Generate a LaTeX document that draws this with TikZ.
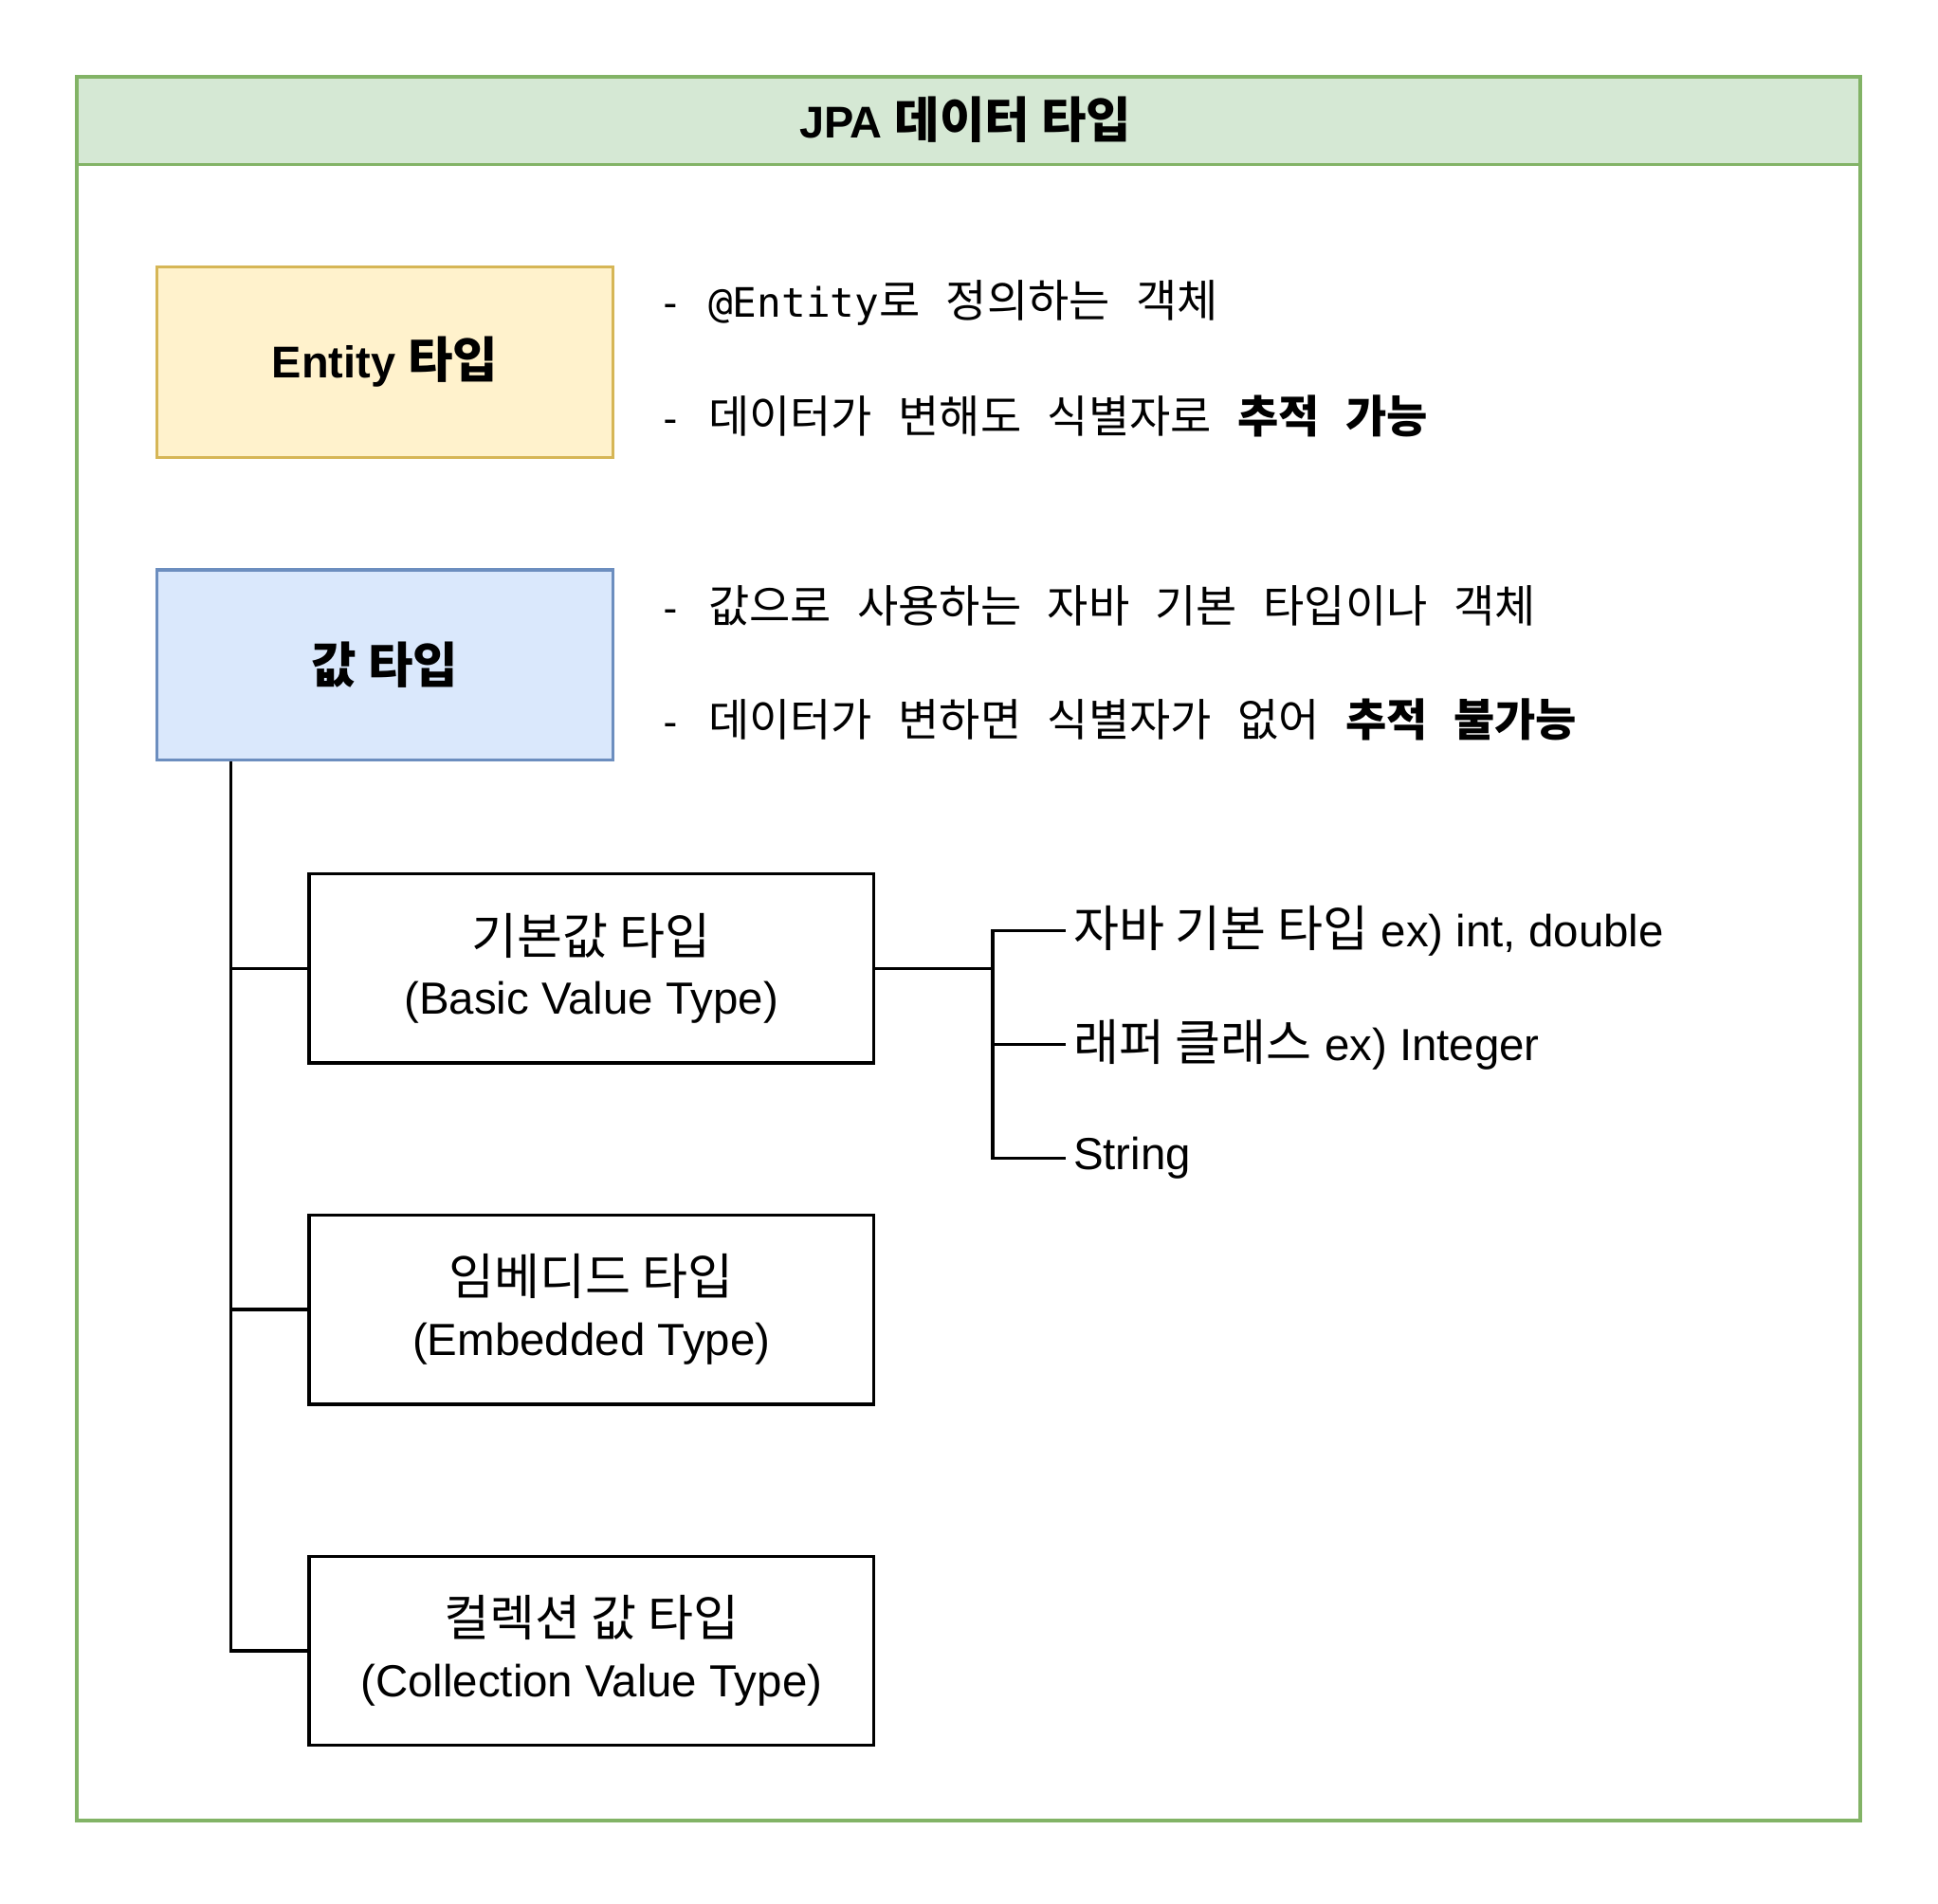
\documentclass[tikz,border=0pt]{standalone}
\usepackage{fontspec}
\setmainfont{Liberation Sans}
\newfontfamily\kr{Noto Sans CJK KR}[Scale=1.1]
\newfontfamily\mono{DejaVu Sans Mono}
\newcommand{\widesp}{\spaceskip=10.5pt\relax}
\definecolor{hdfill}{HTML}{D5E8D4}
\definecolor{hdline}{HTML}{82B366}
\definecolor{entfill}{HTML}{FFF2CC}
\definecolor{entline}{HTML}{D6B656}
\definecolor{valfill}{HTML}{DAE8FC}
\definecolor{valline}{HTML}{6C8EBF}

\begin{document}
\begin{tikzpicture}[x=0.5pt,y=-0.5pt,
  typebox/.style={draw,line width=1.3pt,minimum width=184.5pt,minimum height=77pt,
    font=\bfseries\fontsize{18}{22}\selectfont},
  subbox/.style={draw,line width=1.3pt,minimum width=228.5pt,minimum height=76.5pt,
    align=center,font=\fontsize{18.2}{24.5}\selectfont},
  desc/.style={anchor=west,inner sep=0pt,font={\kr\fontsize{16.4}{20}\selectfont\widesp}},
  leaf/.style={anchor=west,inner xsep=3pt,inner ysep=0pt,font=\fontsize{18.2}{22}\selectfont},
  link/.style={line width=1.3pt}]
  \useasboundingbox (0,0) rectangle (1568,1540);

  %outer frame with header
  \fill[hdfill] (62,62) rectangle (1505,133);
  \draw[hdline,line width=1.3pt] (62,62) rectangle (1505,1473);
  \draw[hdline,line width=1.3pt] (62,133) -- (1505,133);
  \node[font=\bfseries\fontsize{18}{22}\selectfont] (title) at (781,97) {JPA {\kr 데이터 타입}};

  %entity type
  \node[typebox,fill=entfill,draw=entline] (entity) at (311.5,293) {Entity {\kr 타입}};
  \node[desc] (entdefine) at (532,245) {{\mono - @Entity}로 정의하는 객체};
  \node[desc] (enttrack) at (532,337) {{\mono -} 데이터가 변해도 식별자로 \textbf{추적 가능}};

  %value type
  \node[typebox,fill=valfill,draw=valline] (value) at (311.5,538) {\kr 값 타입};
  \node[desc] (valdefine) at (532,490) {{\mono -} 값으로 사용하는 자바 기본 타입이나 객체};
  \node[desc] (valtrack) at (532,582) {{\mono -} 데이터가 변하면 식별자가 없어 \textbf{추적 불가능}};

  %kinds of value type
  \node[subbox] (basic) at (478.5,783.5) {{\kr 기본값 타입}\\(Basic Value Type)};
  \node[subbox] (embedded) at (478.5,1059.5) {{\kr 임베디드 타입}\\(Embedded Type)};
  \node[subbox] (collection) at (478.5,1335.5) {{\kr 컬렉션 값 타입}\\(Collection Value Type)};

  \coordinate (trunk) at ([xshift=30.5pt]value.south west);
  \draw[link] (trunk) |- (collection.west);
  \draw[link] (trunk |- basic.west) -- (basic.west);
  \draw[link] (trunk |- embedded.west) -- (embedded.west);

  %basic value examples
  \node[leaf] (primitive) at (862,753) {{\kr 자바 기본 타입} ex) int, double};
  \node[leaf] (wrapper) at (862,845) {{\kr 래퍼 클래스} ex) Integer};
  \node[leaf] (string) at (862,937) {String};

  \coordinate (fork) at ([xshift=47.5pt]basic.east);
  \draw[link] (basic.east) -- (fork);
  \draw[link] (primitive.west) -- (primitive.west -| fork) -- (string.west -| fork) -- (string.west);
  \draw[link] (wrapper.west) -- (wrapper.west -| fork);
\end{tikzpicture}
\end{document}
